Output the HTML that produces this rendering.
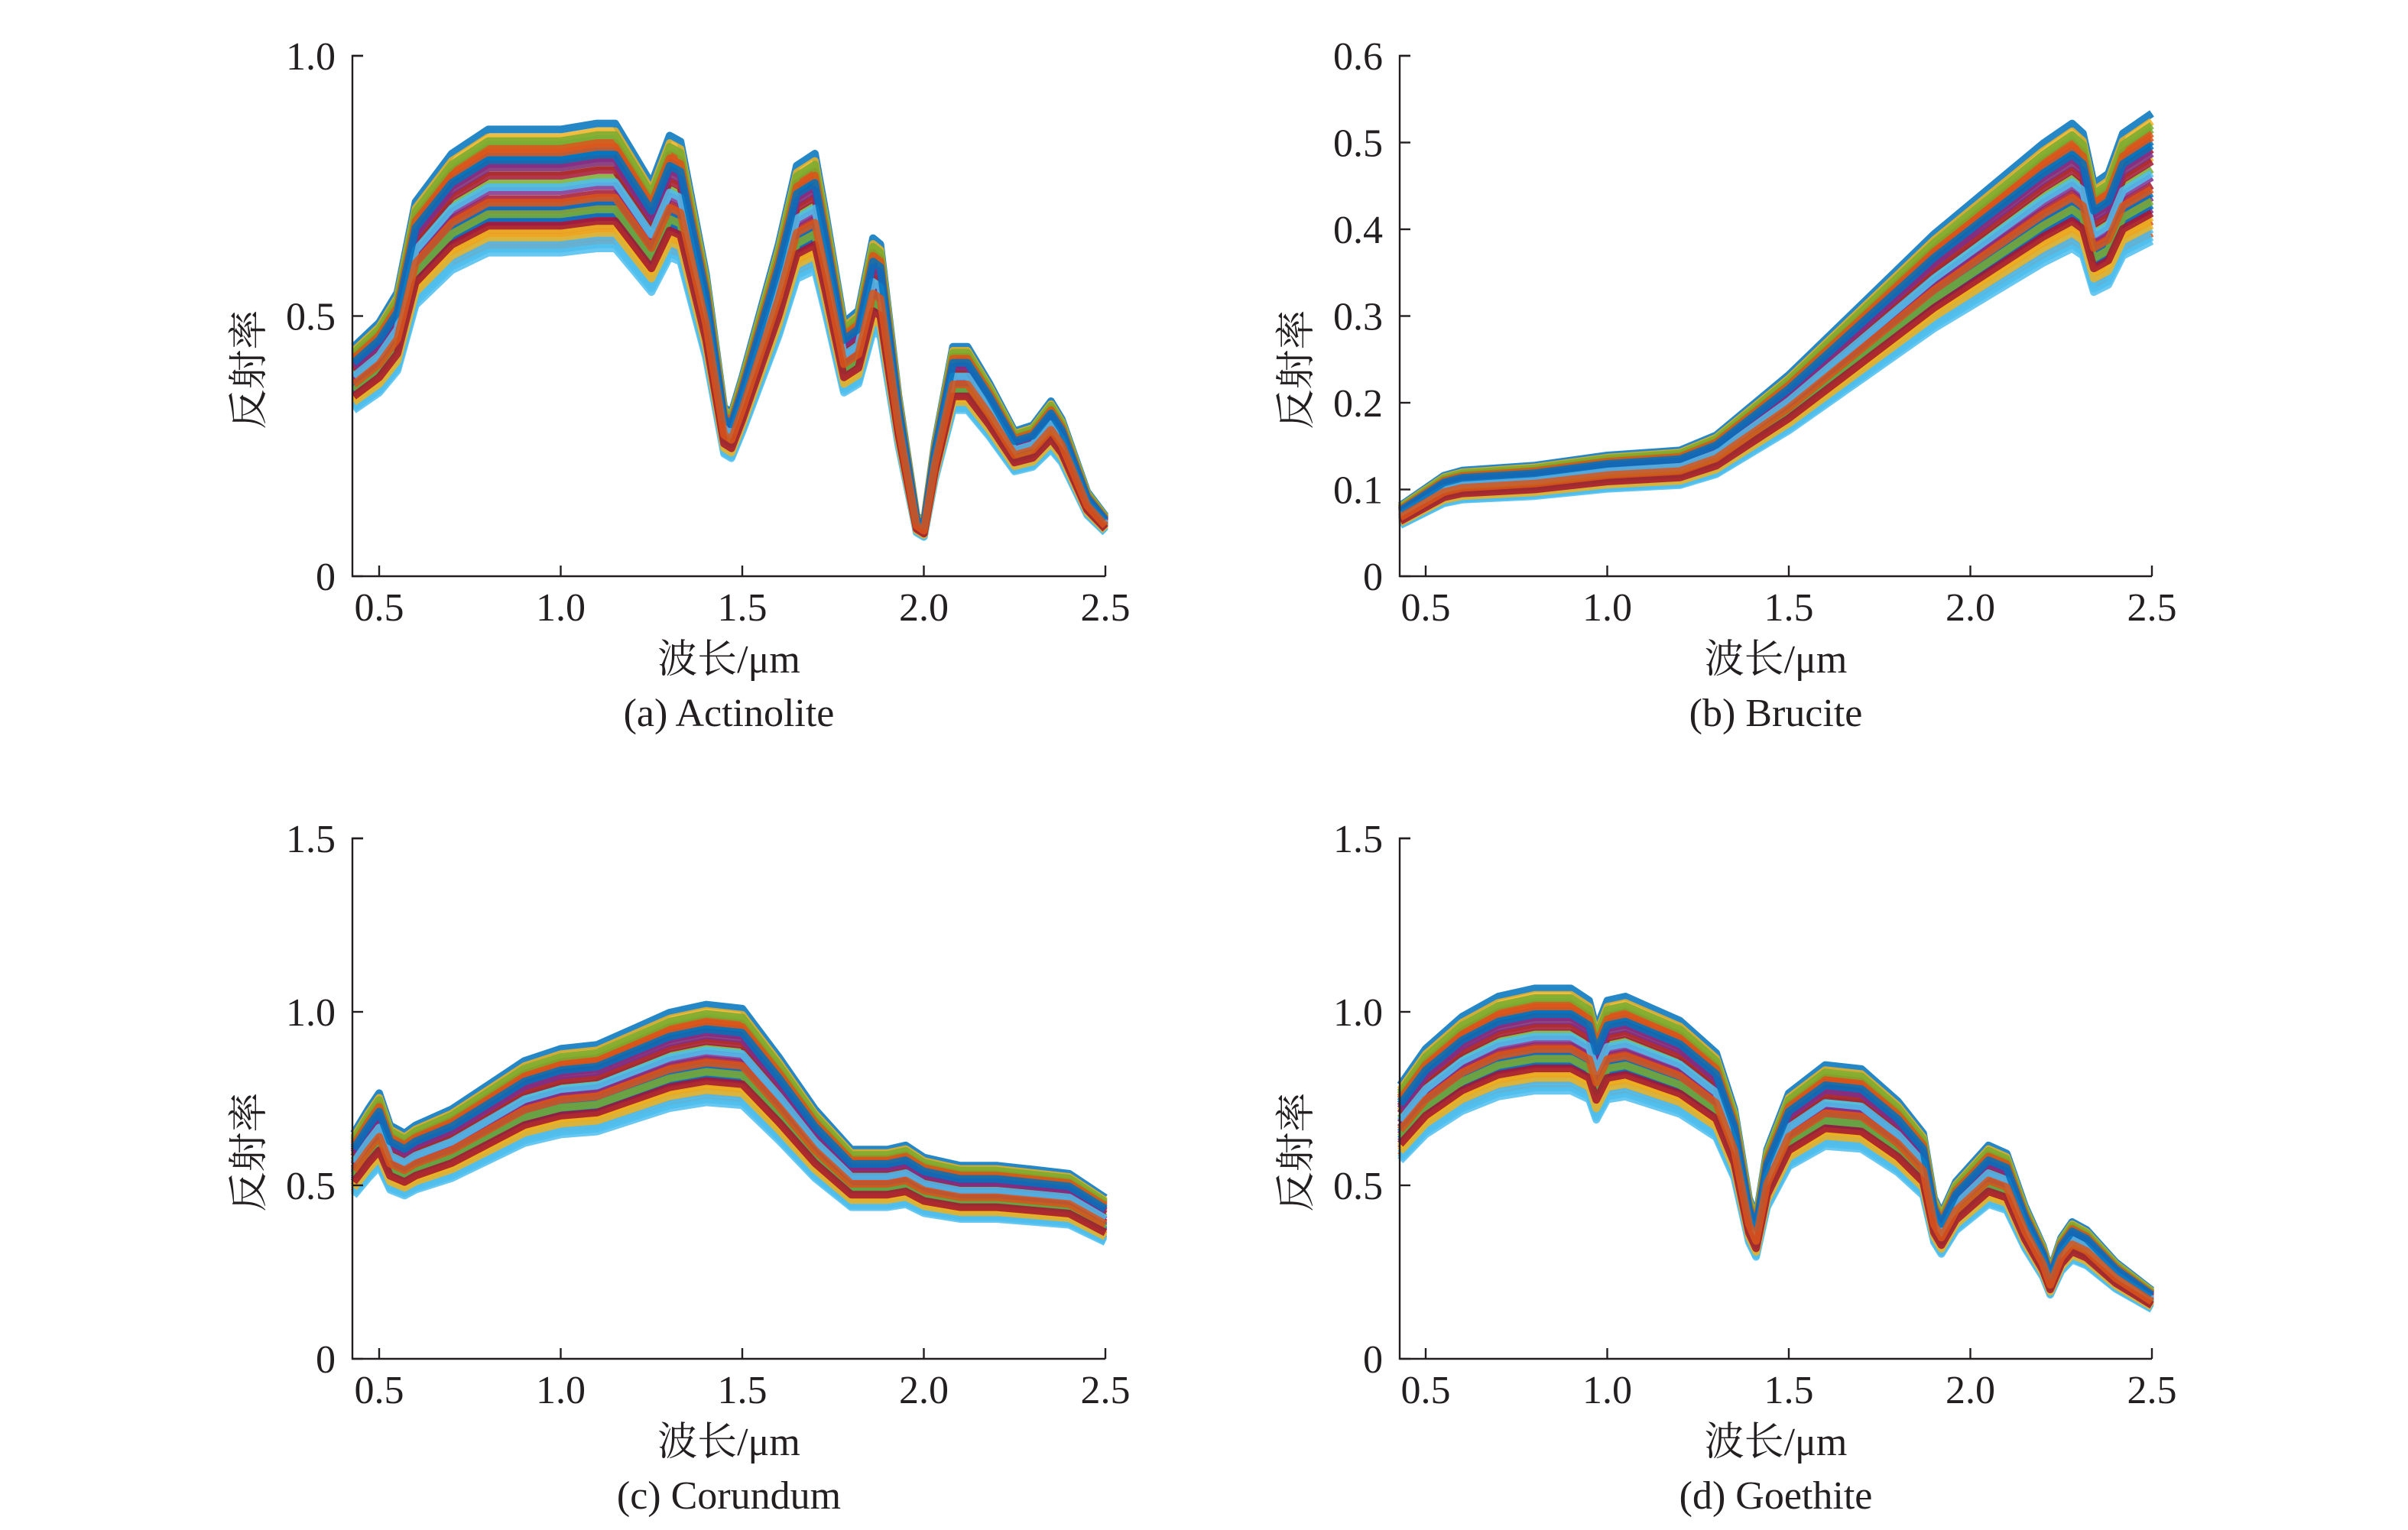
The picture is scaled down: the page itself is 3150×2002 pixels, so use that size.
<!DOCTYPE html>
<html><head><meta charset="utf-8">
<style>
html,body{margin:0;padding:0;background:#fff;}
svg{display:block;}
text{font-family:"Liberation Serif","Noto Serif CJK SC",serif;fill:#231f20;}
</style></head>
<body>
<svg id="fig" width="3150" height="2002" viewBox="0 0 1575 1001" xmlns="http://www.w3.org/2000/svg"></svg>
<script>
// ---- data ----
const colors = ["#0072BD","#D95319","#EDB120","#7E2F8E","#77AC30","#4DBEEE","#A2142F"];
const seriesFactors = [1.16,0.86,1.05,0.92,1.12,0.84,0.98,1.09,0.89,1.14,0.95,1.02,0.87,1.07,0.93,1.11,0.90,1.00,1.13,0.85,1.04,0.96,1.10,0.88,1.06,0.94,1.01,0.91,1.08,0.97];
const xTicks = [0.5,1.0,1.5,2.0,2.5];
const xTickLabels = ["0.5","1.0","1.5","2.0","2.5"];

const actinoliteX = [0.43,0.5,0.55,0.6,0.7,0.8,1.0,1.1,1.15,1.2,1.25,1.3,1.33,1.4,1.45,1.47,1.5,1.6,1.65,1.7,1.73,1.78,1.82,1.86,1.88,1.93,1.98,2.0,2.03,2.08,2.12,2.18,2.25,2.3,2.35,2.38,2.45,2.5];
const actinoliteY = [0.38,0.42,0.47,0.62,0.70,0.74,0.74,0.75,0.75,0.70,0.65,0.73,0.72,0.50,0.28,0.27,0.33,0.55,0.68,0.70,0.60,0.42,0.44,0.56,0.55,0.30,0.10,0.09,0.22,0.38,0.38,0.32,0.24,0.25,0.29,0.26,0.14,0.10];
const bruciteX = [0.43,0.55,0.6,0.8,1.0,1.2,1.3,1.5,1.7,1.9,2.1,2.2,2.28,2.31,2.34,2.38,2.42,2.5];
const bruciteY = [0.07,0.10,0.105,0.11,0.12,0.125,0.14,0.20,0.27,0.34,0.40,0.43,0.45,0.44,0.39,0.40,0.44,0.46];
const corundumX = [0.43,0.47,0.5,0.53,0.57,0.6,0.7,0.8,0.9,1.0,1.1,1.2,1.3,1.4,1.5,1.6,1.7,1.8,1.9,1.95,2.0,2.1,2.2,2.3,2.4,2.5];
const corundumY = [0.56,0.62,0.66,0.58,0.56,0.58,0.62,0.68,0.74,0.77,0.78,0.82,0.86,0.88,0.87,0.75,0.62,0.52,0.52,0.53,0.50,0.48,0.48,0.47,0.46,0.40];
const goethiteX = [0.43,0.5,0.6,0.7,0.8,0.9,0.95,0.97,1.0,1.05,1.1,1.2,1.3,1.35,1.39,1.41,1.44,1.5,1.6,1.7,1.8,1.87,1.9,1.92,1.96,2.05,2.1,2.15,2.2,2.22,2.25,2.28,2.32,2.4,2.5];
const goethiteY = [0.68,0.77,0.85,0.90,0.92,0.92,0.89,0.82,0.89,0.90,0.88,0.84,0.76,0.62,0.40,0.35,0.52,0.66,0.73,0.72,0.64,0.56,0.40,0.36,0.44,0.53,0.51,0.38,0.28,0.22,0.30,0.34,0.32,0.24,0.17];

const panels = [
  {name:"actinolite", title:"(a) Actinolite", x0:230.5, x05:248, yBase:377, yTop:36.5, yMax:1.0, yTicks:[0,0.5,1.0], yLabels:["0","0.5","1.0"], xs:actinoliteX, ys:actinoliteY},
  {name:"brucite", title:"(b) Brucite", x0:915.5, x05:932.5, yBase:377, yTop:36.5, yMax:0.6, yTicks:[0,0.1,0.2,0.3,0.4,0.5,0.6], yLabels:["0","0.1","0.2","0.3","0.4","0.5","0.6"], xs:bruciteX, ys:bruciteY},
  {name:"corundum", title:"(c) Corundum", x0:230.5, x05:248, yBase:889, yTop:548.5, yMax:1.5, yTicks:[0,0.5,1.0,1.5], yLabels:["0","0.5","1.0","1.5"], xs:corundumX, ys:corundumY},
  {name:"goethite", title:"(d) Goethite", x0:915.5, x05:932.5, yBase:889, yTop:548.5, yMax:1.5, yTicks:[0,0.5,1.0,1.5], yLabels:["0","0.5","1.0","1.5"], xs:goethiteX, ys:goethiteY}
];

const FONT='"Liberation Serif","Noto Serif CJK SC",serif';
const NS="http://www.w3.org/2000/svg";
const svg=document.getElementById('fig');
function mk(tag,attrs,parent){const e=document.createElementNS(NS,tag);for(const k in attrs)e.setAttribute(k,attrs[k]);(parent||svg).appendChild(e);return e;}

panels.forEach(p=>{
  const g=mk('g',{});
  
  
  const pxPerUm=237.5;
  const xs=v=>p.x05+(v-0.5)*pxPerUm;
  const ys=v=>p.yBase-(v/p.yMax)*(p.yBase-p.yTop);
  const xEnd=xs(2.5);
  seriesFactors.forEach((f,i)=>{
    let d="";
    p.xs.forEach((xv,j)=>{d+=(j?"L":"M")+xs(xv).toFixed(1)+","+ys(p.ys[j]*f).toFixed(1);});
    const path=mk('path',{d:d,fill:"none",stroke:colors[i%colors.length],"stroke-width":5,"stroke-linejoin":"round","stroke-opacity":0.85},g);
    
    
  });
  const ax=mk('path',{d:`M${p.x0+7},${p.yTop}H${p.x0}V${p.yBase}H${xEnd}`,fill:"none",stroke:"#231f20","stroke-width":1.2},g);
  
  
  p.yTicks.forEach((t,i)=>{
    const y=ys(t);
    mk('line',{x1:p.x0,x2:p.x0+7,y1:y,y2:y,stroke:"#231f20","stroke-width":1.2},g);
    const tx=mk('text',{x:p.x0-11,y:y+9,"text-anchor":"end","font-size":26,"font-family":FONT},g);
    tx.textContent=p.yLabels[i];
    
    
  });
  xTicks.forEach((t,i)=>{
    const x=xs(t);
    mk('line',{x1:x,x2:x,y1:p.yBase,y2:p.yBase-7,stroke:"#231f20","stroke-width":1.2},g);
    const tx=mk('text',{x:x,y:p.yBase+29,"text-anchor":"middle","font-size":26,"font-family":FONT},g);
    tx.textContent=xTickLabels[i];
    
    
  });
  const cx=(p.x0+xEnd)/2;
  const xl=mk('text',{x:cx,y:p.yBase+63,"text-anchor":"middle","font-size":26,"font-family":FONT},g);
  xl.textContent="波长/μm";
  
  
  const ti=mk('text',{x:cx,y:p.yBase+98,"text-anchor":"middle","font-size":26,"font-family":FONT},g);
  ti.textContent=p.title;
  
  
  const yc=(p.yBase+p.yTop)/2+35;
  const yl=mk('text',{x:0,y:0,"text-anchor":"middle","font-size":26,"font-family":FONT,transform:`translate(${p.x0-59},${yc}) rotate(-90)`},g);
  yl.textContent="反射率";
  
  
});
</script>
</body></html>
